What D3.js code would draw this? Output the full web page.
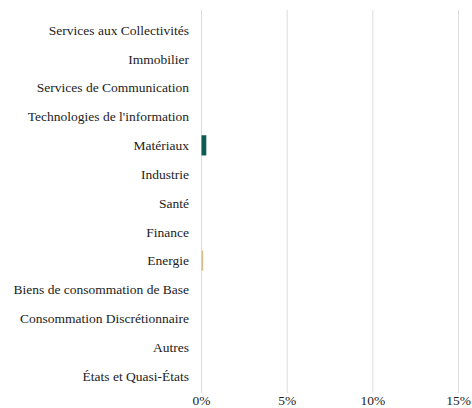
<!DOCTYPE html>
<html>
<head>
<meta charset="utf-8">
<script src="https://cdn.jsdelivr.net/npm/d3@7"></script>
<style>
	body { margin: 0; background: #fff; }
	text { font-family: "Liberation Serif", serif; }
</style>
</head>
<body>
<div id="chart"></div>
<script>
var width = 472,
	height = 408;

var sectors = ["Services aux Collectivités", "Immobilier", "Services de Communication",
	"Technologies de l'information", "Matériaux", "Industrie", "Santé", "Finance", "Energie",
	"Biens de consommation de Base", "Consommation Discrétionnaire", "Autres", "États et Quasi-États"];
var weights = [0, 0, 0, 0, 0.28, 0, 0, 0, 0.1, 0, 0, 0, 0];
var barColors = ["#0b5c52", "#0b5c52", "#0b5c52", "#0b5c52", "#0b5c52", "#0b5c52", "#0b5c52", "#0b5c52",
	"#d9bf8c", "#0b5c52", "#0b5c52", "#0b5c52", "#0b5c52"];
var xTicks = [0, 5, 10, 15];

var margin = { top: 10, right: 14, bottom: 15, left: 201 };

var svg = d3.select("#chart")
	.append("svg")
	.attr("width", width)
	.attr("height", height);

var x = d3.scaleLinear()
	.domain([0, 15])
	.range([margin.left, width - margin.right]);

var y = d3.scaleBand()
	.domain(sectors)
	.range([15.6, 390.4])
	.paddingInner(0.3)
	.paddingOuter(0.15);

// grid lines
svg.append("g")
	.selectAll("line")
	.data(xTicks)
	.enter()
	.append("line")
	.attr("x1", function (d) { return x(d) + 0.5; })
	.attr("x2", function (d) { return x(d) + 0.5; })
	.attr("y1", margin.top)
	.attr("y2", height - margin.bottom)
	.attr("stroke", "#dcdcdc")
	.attr("stroke-width", 1);

// bars
svg.append("g")
	.selectAll("rect")
	.data(sectors)
	.enter()
	.append("rect")
	.attr("x", x(0) + 0.5)
	.attr("y", function (d) { return y(d); })
	.attr("width", function (d, i) { return x(weights[i]) - x(0); })
	.attr("height", y.bandwidth())
	.attr("fill", function (d, i) { return barColors[i]; });

// category labels
svg.append("g")
	.selectAll("text")
	.data(sectors)
	.enter()
	.append("text")
	.attr("x", margin.left - 12)
	.attr("y", function (d) { return y(d) + y.bandwidth() / 2; })
	.attr("dy", "0.35em")
	.attr("text-anchor", "end")
	.attr("font-size", 13.5)
	.attr("fill", "#222")
	.text(function (d) { return d; });

// x tick labels
svg.append("g")
	.selectAll("text")
	.data(xTicks)
	.enter()
	.append("text")
	.attr("x", function (d) { return x(d) + 0.5; })
	.attr("y", 405)
	.attr("text-anchor", "middle")
	.attr("font-size", 13.5)
	.attr("fill", "#222")
	.text(function (d) { return d + "%"; });
</script>
</body>
</html>
